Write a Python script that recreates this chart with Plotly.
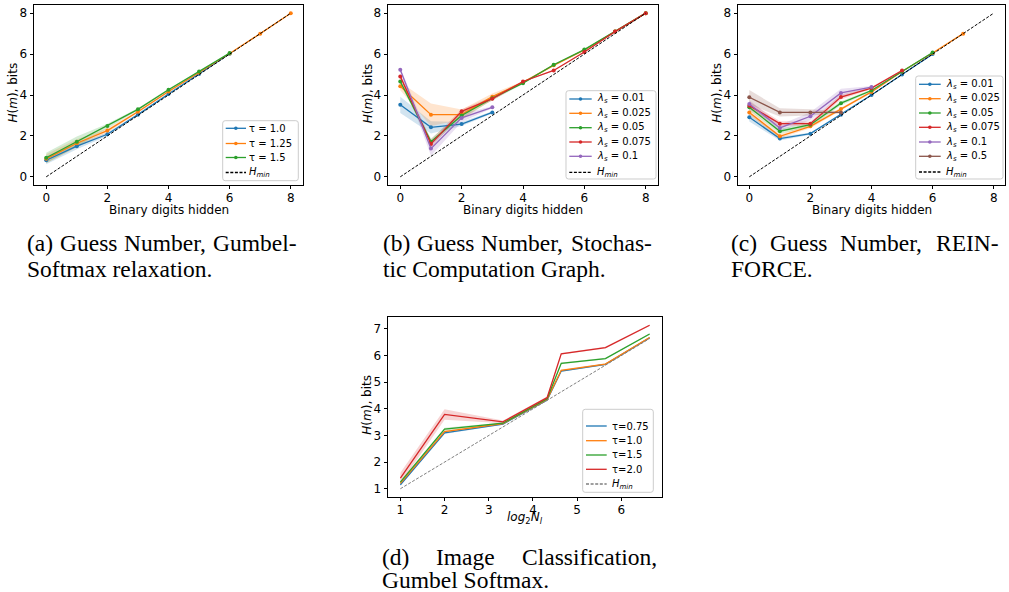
import plotly.graph_objects as go

W, H = 1009, 592

# ---------------- data ----------------
# (a) Guess Number, Gumbel-Softmax relaxation
a_x = [0, 1, 2, 3, 4, 5, 6, 7, 8]
a_tau10 = [0.81, 1.50, 2.08, 3.04, 4.05, 5.03, 6.02]
a_tau10_sd = [0.20, 0.15, 0.08, 0.04, 0.03, 0.02, 0.01]
a_tau125 = [0.88, 1.64, 2.26, 3.18, 4.17, 5.09, 6.03, 7.00, 8.00]
a_tau125_sd = [0.22, 0.20, 0.10, 0.05, 0.03, 0.02, 0.01, 0.01, 0.0]
a_tau15 = [0.93, 1.72, 2.48, 3.30, 4.26, 5.15, 6.05]
a_tau15_sd = [0.25, 0.25, 0.12, 0.05, 0.04, 0.02, 0.01]
a_labels = ["τ = 1.0", "τ = 1.25", "τ = 1.5"]

# (b) Guess Number, Stochastic Computation Graph
b_x = [0, 1, 2, 3, 4, 5, 6, 7, 8]
b_l001 = [3.52, 2.42, 2.58, 3.15]
b_l001_sd = [0.40, 0.30, 0.10, 0.05]
b_l0025 = [4.43, 3.04, 3.04, 3.92, 4.62, 5.45, 6.20, 7.10, 8.00]
b_l0025_sd = [0.20, 0.55, 0.25, 0.15, 0.05, 0.03, 0.03, 0.02, 0.0]
b_l005 = [4.66, 1.72, 3.00, 3.84, 4.58, 5.48, 6.22, 7.10, 8.00]
b_l005_sd = [0.10, 0.15, 0.15, 0.10, 0.04, 0.03, 0.03, 0.02, 0.0]
b_l0075 = [4.91, 1.61, 3.20, 3.82, 4.66, 5.20, 6.10, 7.10, 8.00]
b_l0075_sd = [0.10, 0.20, 0.10, 0.10, 0.03, 0.03, 0.03, 0.02, 0.0]
b_l01 = [5.23, 1.38, 2.88, 3.40]
b_l01_sd = [0.10, 0.35, 0.20, 0.05]
b_labels = ["0.01", "0.025", "0.05", "0.075", "0.1"]

# (c) Guess Number, REINFORCE
c_x = [0, 1, 2, 3, 4, 5, 6, 7, 8]
c_l001 = [2.91, 1.87, 2.11, 3.04, 4.00, 5.00, 6.00]
c_l001_sd = [0.20, 0.10, 0.05, 0.04, 0.02, 0.02, 0.01]
c_l0025 = [3.15, 1.98, 2.47, 3.32, 4.15, 5.15, 6.05, 7.00]
c_l0025_sd = [0.15, 0.10, 0.10, 0.08, 0.04, 0.03, 0.02, 0.01]
c_l005 = [3.40, 2.23, 2.55, 3.60, 4.22, 5.15, 6.08]
c_l005_sd = [0.15, 0.12, 0.10, 0.10, 0.05, 0.03, 0.02]
c_l0075 = [3.48, 2.60, 2.60, 3.90, 4.34, 5.20]
c_l0075_sd = [0.20, 0.12, 0.10, 0.12, 0.05, 0.03]
c_l01 = [3.56, 2.39, 2.96, 4.10, 4.39]
c_l01_sd = [0.20, 0.15, 0.20, 0.20, 0.05]
c_l05 = [3.89, 3.15, 3.15, 3.15]
c_l05_sd = [0.35, 0.20, 0.15, 0.05]
c_labels = ["0.01", "0.025", "0.05", "0.075", "0.1", "0.5"]

# (d) Image Classification, Gumbel Softmax
d_x = [1.0, 2.0, 3.32, 4.32, 4.64, 5.64, 6.64]
d_hmin = [1.0, 2.0, 3.32, 4.32, 4.64, 5.64, 6.64]
d_t075 = [1.15, 3.10, 3.43, 4.33, 5.42, 5.67, 6.67]
d_t075_sd = [0.04, 0.04, 0.03, 0.03, 0.03, 0.03, 0.03]
d_t10 = [1.20, 3.15, 3.45, 4.35, 5.45, 5.68, 6.68]
d_t10_sd = [0.04, 0.04, 0.03, 0.03, 0.03, 0.03, 0.03]
d_t15 = [1.25, 3.24, 3.46, 4.38, 5.71, 5.89, 6.81]
d_t15_sd = [0.04, 0.05, 0.03, 0.03, 0.03, 0.03, 0.03]
d_t20 = [1.40, 3.79, 3.51, 4.42, 6.07, 6.30, 7.14]
d_t20_sd = [0.20, 0.20, 0.05, 0.04, 0.03, 0.03, 0.03]
d_labels = ["τ=0.75", "τ=1.0", "τ=1.5", "τ=2.0"]

hmin_x = [0, 8]
hmin_y = [0, 8]

COLORS = ["#1f77b4", "#ff7f0e", "#2ca02c", "#d62728", "#9467bd", "#8c564b"]
DASH = "3px,1.6px"


def rgba(hexc, a):
    h = hexc.lstrip("#")
    return "rgba(%d,%d,%d,%.2f)" % (int(h[0:2], 16), int(h[2:4], 16), int(h[4:6], 16), a)


fig = go.Figure()


def add_series(xs, ys, sd, color, xa, ya, markers=True):
    n = len(ys)
    xx = xs[:n]
    up = [y + s for y, s in zip(ys, sd)]
    lo = [y - s for y, s in zip(ys, sd)]
    fig.add_trace(go.Scatter(x=xx, y=up, mode="lines", line=dict(width=0), xaxis=xa, yaxis=ya,
                             showlegend=False, hoverinfo="skip"))
    fig.add_trace(go.Scatter(x=xx, y=lo, mode="lines", line=dict(width=0), fill="tonexty",
                             fillcolor=rgba(color, 0.2), xaxis=xa, yaxis=ya,
                             showlegend=False, hoverinfo="skip"))
    return dict(x=xx, y=ys, color=color, xa=xa, ya=ya, markers=markers)


def draw_lines(specs):
    for s in specs:
        fig.add_trace(go.Scatter(x=s["x"], y=s["y"], mode="lines+markers" if s["markers"] else "lines",
                                 line=dict(color=s["color"], width=1.3),
                                 marker=dict(size=4, color=s["color"]),
                                 xaxis=s["xa"], yaxis=s["ya"], showlegend=False))


# panel a
sa = [add_series(a_x, a_tau10, a_tau10_sd, COLORS[0], "x", "y"),
      add_series(a_x, a_tau125, a_tau125_sd, COLORS[1], "x", "y"),
      add_series(a_x, a_tau15, a_tau15_sd, COLORS[2], "x", "y")]
draw_lines(sa)
fig.add_trace(go.Scatter(x=hmin_x, y=hmin_y, mode="lines", line=dict(color="black", width=1, dash=DASH),
                         xaxis="x", yaxis="y", showlegend=False))

# panel b
sb = [add_series(b_x, v, s, COLORS[i], "x2", "y2") for i, (v, s) in enumerate(
    [(b_l001, b_l001_sd), (b_l0025, b_l0025_sd), (b_l005, b_l005_sd), (b_l0075, b_l0075_sd), (b_l01, b_l01_sd)])]
draw_lines(sb)
fig.add_trace(go.Scatter(x=hmin_x, y=hmin_y, mode="lines", line=dict(color="black", width=1, dash=DASH),
                         xaxis="x2", yaxis="y2", showlegend=False))

# panel c
sc = [add_series(c_x, v, s, COLORS[i], "x3", "y3") for i, (v, s) in enumerate(
    [(c_l001, c_l001_sd), (c_l0025, c_l0025_sd), (c_l005, c_l005_sd), (c_l0075, c_l0075_sd),
     (c_l01, c_l01_sd), (c_l05, c_l05_sd)])]
draw_lines(sc)
fig.add_trace(go.Scatter(x=hmin_x, y=hmin_y, mode="lines", line=dict(color="black", width=1, dash=DASH),
                         xaxis="x3", yaxis="y3", showlegend=False))

# panel d
sd_ = [add_series(d_x, v, s, COLORS[i], "x4", "y4", markers=False) for i, (v, s) in enumerate(
    [(d_t075, d_t075_sd), (d_t10, d_t10_sd), (d_t15, d_t15_sd), (d_t20, d_t20_sd)])]
draw_lines(sd_)
fig.add_trace(go.Scatter(x=d_x, y=d_hmin, mode="lines", line=dict(color="#7f7f7f", width=1, dash=DASH),
                         xaxis="x4", yaxis="y4", showlegend=False))


# ---------------- layout ----------------
def X(px):
    return px / W


def Y(py):
    return 1 - py / H


TICKFONT = dict(family="DejaVu Sans", size=12, color="black")


def axis(dom, rng, tickvals, anchor, is_x):
    d = dict(domain=dom, range=rng, tickvals=tickvals, anchor=anchor, showline=True, mirror=True,
             linecolor="black", linewidth=0.9, ticks="outside", ticklen=3.5, tickwidth=0.9,
             tickcolor="black", showgrid=False, zeroline=False, tickfont=TICKFONT, fixedrange=True)
    if is_x:
        d["ticklabelstandoff"] = -2
    return d


boxes = {
    "a": (34, 303, 5, 185),
    "b": (388, 658, 5, 185),
    "c": (738, 1005, 5, 185),
    "d": (388, 662, 317, 497),
}

lay = dict(width=W, height=H, margin=dict(l=0, r=0, t=0, b=0), paper_bgcolor="white",
           plot_bgcolor="white", showlegend=False)
for key, xa, ya, xr, yr, xt, yt in [
    ("a", "xaxis", "yaxis", [-0.4, 8.4], [-0.4, 8.4], [0, 2, 4, 6, 8], [0, 2, 4, 6, 8]),
    ("b", "xaxis2", "yaxis2", [-0.4, 8.4], [-0.4, 8.4], [0, 2, 4, 6, 8], [0, 2, 4, 6, 8]),
    ("c", "xaxis3", "yaxis3", [-0.37, 8.37], [-0.4, 8.4], [0, 2, 4, 6, 8], [0, 2, 4, 6, 8]),
    ("d", "xaxis4", "yaxis4", [0.72, 6.92], [0.69, 7.45], [1, 2, 3, 4, 5, 6], [1, 2, 3, 4, 5, 6, 7]),
]:
    x0, x1, y0, y1 = boxes[key]
    xs = xa.replace("axis", "")
    ys = ya.replace("axis", "")
    lay[xa] = axis([X(x0), X(x1)], xr, xt, ys, True)
    lay[ya] = axis([Y(y1), Y(y0)], yr, yt, xs, False)

fig.update_layout(**lay)

annotations = []
shapes = []

LBL = dict(family="DejaVu Sans", size=12, color="black")
YT = "<i>H</i>(<i>m</i>), bits"
for xc, yc in [(12.5, 93), (368.3, 93), (716.7, 93), (366.7, 405)]:
    annotations.append(dict(text=YT, x=X(xc), y=Y(yc), xref="paper", yref="paper", textangle=-90,
                            showarrow=False, xanchor="center", yanchor="middle", font=LBL))
for xc in [168.5, 523, 871.5]:
    annotations.append(dict(text="Binary digits hidden", x=X(xc), y=Y(210), xref="paper", yref="paper",
                            showarrow=False, xanchor="center", yanchor="middle", font=LBL))
annotations.append(dict(text="<i>log</i><sub>2</sub><i>N</i><sub><i>l</i></sub>", x=X(525), y=Y(518),
                        xref="paper", yref="paper", showarrow=False, xanchor="center", yanchor="middle",
                        font=LBL))

# ---------------- legends ----------------
LEGFONT = dict(family="DejaVu Sans", size=10, color="black")


def rounded_rect(x0, y0, x1, y1, r=2.5):
    def P(px, py):
        return "%.5f,%.5f" % (X(px), Y(py))
    return ("M " + P(x0 + r, y0) + " L " + P(x1 - r, y0) + " Q " + P(x1, y0) + " " + P(x1, y0 + r) +
            " L " + P(x1, y1 - r) + " Q " + P(x1, y1) + " " + P(x1 - r, y1) +
            " L " + P(x0 + r, y1) + " Q " + P(x0, y1) + " " + P(x0, y1 - r) +
            " L " + P(x0, y0 + r) + " Q " + P(x0, y0) + " " + P(x0 + r, y0) + " Z")


def legend(box, lx0, lx1, tx, ys, entries):
    shapes.append(dict(type="path", path=rounded_rect(*box), xref="paper", yref="paper", layer="above",
                       fillcolor="rgba(255,255,255,0.8)", line=dict(color="#cccccc", width=1)))
    for yv, (color, dash, mk, label) in zip(ys, entries):
        shapes.append(dict(type="line", x0=X(lx0), x1=X(lx1), y0=Y(yv), y1=Y(yv), xref="paper", yref="paper",
                           layer="above", line=dict(color=color, width=1.3, dash=dash)))
        if mk:
            xm = (lx0 + lx1) / 2
            shapes.append(dict(type="circle", x0=X(xm - 1.8), x1=X(xm + 1.8), y0=Y(yv + 1.8), y1=Y(yv - 1.8),
                               xref="paper", yref="paper", layer="above", fillcolor=color,
                               line=dict(width=0)))
        annotations.append(dict(text=label, x=X(tx), y=Y(yv), xref="paper", yref="paper", showarrow=False,
                                xanchor="left", yanchor="middle", font=LEGFONT, borderpad=0, borderwidth=0))


HMIN = "<i>H</i><sub><i>min</i></sub>"


def lam(v):
    return "<i>λ</i><sub><i>s</i></sub> = " + v


legend((222.7, 120.7, 298.3, 180.7), 225.7, 246, 249.3, [128.3, 143.5, 157.5, 172.5],
       [(COLORS[i], "solid", True, a_labels[i]) for i in range(3)] + [("black", DASH, False, HMIN)])
legend((566, 90.7, 656, 179), 569.3, 591.7, 596.7, [99, 113.3, 127.7, 142, 156.3, 172.3],
       [(COLORS[i], "solid", True, lam(b_labels[i])) for i in range(5)] + [("black", DASH, False, HMIN)])
legend((915.7, 76, 1003, 179), 919, 940.7, 946, [84.3, 98.7, 113, 127.3, 142, 156.3, 172],
       [(COLORS[i], "solid", True, lam(c_labels[i])) for i in range(6)] + [("black", DASH, False, HMIN)])
legend((582.7, 409.3, 653.3, 492.3), 586, 606.7, 611.7, [426, 440.7, 455, 469.3, 484],
       [(COLORS[i], "solid", False, d_labels[i]) for i in range(4)] + [("#7f7f7f", DASH, False, HMIN)])

# ---------------- captions (justified, Times metrics) ----------------
CAP_SIZE = 23.5
CAP = dict(family="Liberation Serif", size=CAP_SIZE, color="black")
TIMES_W = {" ": 250, "(": 333, ")": 333, ",": 250, "-": 333, ".": 250,
           "a": 444, "b": 500, "c": 444, "d": 500, "e": 444, "f": 333, "g": 500, "h": 500, "i": 278,
           "l": 278, "m": 778, "n": 500, "o": 500, "p": 500, "r": 333, "s": 389, "t": 278, "u": 500,
           "x": 500, "y": 500, "A": 722, "C": 667, "E": 611, "F": 556, "G": 722, "I": 333, "N": 722,
           "O": 722, "R": 667, "S": 556}


def tw(s):
    return sum(TIMES_W.get(ch, 500) for ch in s) / 1000.0 * CAP_SIZE


def cap_text(text, xp, yp):
    annotations.append(dict(text=text, x=X(xp), y=Y(yp), xref="paper", yref="paper", showarrow=False,
                            xanchor="left", yanchor="middle", font=CAP, borderpad=0, borderwidth=0))


def justified(words, left, right, yp):
    widths = [tw(w) for w in words]
    gap = (right - left - sum(widths)) / (len(words) - 1)
    x = left
    for w, wd in zip(words, widths):
        cap_text(w, x, yp)
        x += wd + gap


justified(["(a)", "Guess", "Number,", "Gumbel-"], 27.3, 296.7, 243)
cap_text("Softmax relaxation.", 27.3, 269.3)
justified(["(b)", "Guess", "Number,", "Stochas-"], 382.7, 651.7, 243)
cap_text("tic Computation Graph.", 382.7, 269.3)
justified(["(c)", "Guess", "Number,", "REIN-"], 730.7, 998.3, 243)
cap_text("FORCE.", 730.7, 269.3)
justified(["(d)", "Image", "Classification,"], 381.7, 656.7, 556.7)
cap_text("Gumbel Softmax.", 381.7, 580)

fig.update_layout(annotations=annotations, shapes=shapes)
fig.write_html("out.html", config={"displayModeBar": False},
               post_script="document.body.style.margin='0px';document.body.style.padding='0px';"
                           "document.body.style.overflow='hidden';")
